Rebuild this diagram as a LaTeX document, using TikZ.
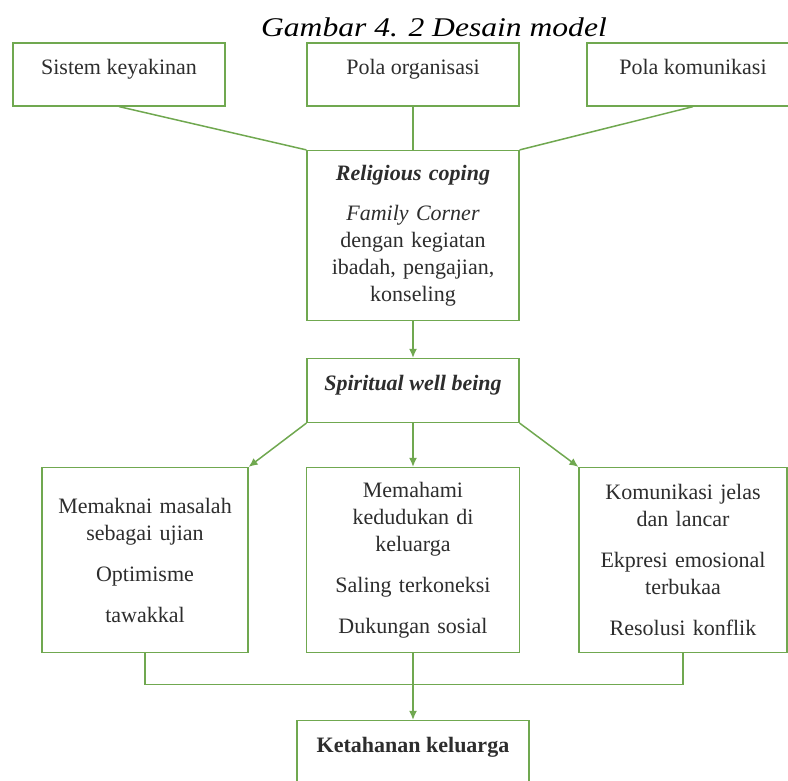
\documentclass[tikz,border=0pt]{standalone}
\usepackage{amsmath}
\usepackage{fontspec}
\setmainfont{Liberation Serif}
\newfontfamily\captionfont[FakeStretch=1.17]{Liberation Serif}
\usetikzlibrary{arrows.meta,positioning}
\definecolor{linegreen}{RGB}{112,168,80}
\definecolor{textgray}{RGB}{45,45,45}

\begin{document}
\begin{tikzpicture}[x=1pt, y=-1pt, node distance=22mm, >={Latex[length=9pt,width=8pt]},
  block/.style={rectangle, draw=linegreen, line width=1.2pt, fill=white, text=textgray, font=\fontsize{22}{27}\selectfont, inner ysep=0pt, minimum width=212pt, text height=31pt, text depth=32pt},
  listblock/.style={rectangle, draw=linegreen, line width=1.2pt, fill=white, text=textgray, font=\fontsize{22}{27}\selectfont, align=center, inner xsep=4pt, minimum height=185pt},
  link/.style={draw=linegreen, line width=1.5pt}]
  {
  \useasboundingbox (0,0) rectangle (788,780);
  \node[anchor=base, font=\captionfont\itshape\fontsize{27}{30}\selectfont] (title) at (434,36) {Gambar 4. 2 Desain model};
  \node[block] (keyakinan) at (119,74.5) {Sistem keyakinan};
  \node[block, right of=keyakinan, node distance=294pt] (organisasi) {Pola organisasi};
  \node[block, right of=organisasi, node distance=280pt] (komunikasi) {Pola komunikasi};
  \node[listblock, below of=organisasi, node distance=161pt, text width=204pt, minimum height=170pt] (coping) {\textbf{\textit{Religious coping}}\\[13pt] \textit{Family Corner}\\ dengan kegiatan\\ ibadah, pengajian,\\ konseling};
  \node[block, below of=coping, node distance=155pt, text height=32pt] (spiritual) {\textbf{\textit{Spiritual well being}}};
  \node[listblock, below of=spiritual, node distance=169.5pt, text width=205pt] (memahami) {Memahami\\ kedudukan di\\ keluarga\\[14pt] Saling terkoneksi\\[14pt] Dukungan sosial};
  \node[listblock, left of=memahami, node distance=268pt, text width=198pt] (maknai) {Memaknai masalah\\ sebagai ujian\\[14pt] Optimisme\\[14pt] tawakkal};
  \node[listblock, right of=memahami, node distance=270pt, text width=200pt] (komjelas) {Komunikasi jelas\\ dan lancar\\[14pt] Ekpresi emosional\\ terbukaa\\[14pt] Resolusi konflik};
  \node[coordinate, below of=memahami, node distance=124.5pt] (join) {};
  \node[block, below of=memahami, node distance=192.5pt, minimum width=232pt, text height=32pt] (ketahanan) {\textbf{Ketahanan keluarga}};

  \draw[link] (keyakinan.south) -- (coping.north west);
  \draw[link] (organisasi) -- (coping);
  \draw[link] (komunikasi.south) -- (coping.north east);
  \draw[link, ->] (coping) -- (spiritual);
  \draw[link, ->] (spiritual.south west) -- (maknai.north east);
  \draw[link, ->] (spiritual) -- (memahami);
  \draw[link, ->] (spiritual.south east) -- (komjelas.north west);
  \draw[link] (maknai) |- (join) -| (komjelas);
  \draw[link, ->] (memahami) -- (ketahanan);
}
\end{tikzpicture}
\end{document}
